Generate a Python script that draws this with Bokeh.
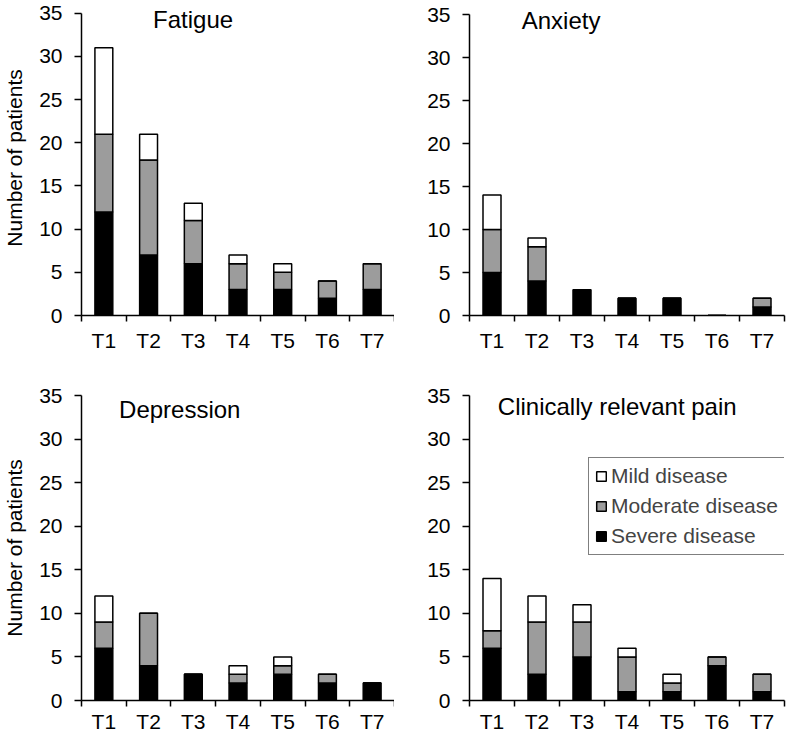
from bokeh.plotting import figure
from bokeh.layouts import column, row
from bokeh.models import ColumnDataSource, Range1d, FixedTicker, Label, Legend, LegendItem
from bokeh.embed import file_html
from bokeh.resources import INLINE

# ---- data ----
categories = ["T1", "T2", "T3", "T4", "T5", "T6", "T7"]
y_ticks = [0, 5, 10, 15, 20, 25, 30, 35]
legend_labels = ["Severe disease", "Moderate disease", "Mild disease"]

fatigue_severe = [12, 7, 6, 3, 3, 2, 3]
fatigue_moderate = [9, 11, 5, 3, 2, 2, 3]
fatigue_mild = [10, 3, 2, 1, 1, 0, 0]

anxiety_severe = [5, 4, 3, 2, 2, 0, 1]
anxiety_moderate = [5, 4, 0, 0, 0, 0, 1]
anxiety_mild = [4, 1, 0, 0, 0, 0, 0]

depression_severe = [6, 4, 3, 2, 3, 2, 2]
depression_moderate = [3, 6, 0, 1, 1, 1, 0]
depression_mild = [3, 0, 0, 1, 1, 0, 0]

pain_severe = [6, 3, 5, 1, 1, 4, 1]
pain_moderate = [2, 6, 4, 4, 1, 1, 2]
pain_mild = [6, 3, 2, 1, 1, 0, 0]

FONT = "Liberation Sans"
COLORS = ["black", "#9c9c9c", "white"]


def make_panel(title, severe, moderate, mild, width, height, mbl, mbr, mbt, mbb,
               top_px, title_x, title_y, x_standoff, ylabel=None, legend=False):
    ymax = y_ticks[-1]
    frame_h = height - mbt - mbb
    px_per_unit = (frame_h - top_px) / ymax
    y_end = ymax + top_px / px_per_unit
    xs = list(range(1, len(categories) + 1))
    src = ColumnDataSource(dict(x=xs, severe=severe, moderate=moderate, mild=mild))
    p = figure(width=width, height=height,
               x_range=Range1d(0.5, len(categories) + 0.5),
               y_range=Range1d(y_ticks[0], y_end),
               output_backend="svg", toolbar_location=None,
               min_border_left=mbl, min_border_right=mbr,
               min_border_top=mbt, min_border_bottom=mbb)
    p.outline_line_color = None
    p.xgrid.visible = False
    p.ygrid.visible = False
    rs = p.vbar_stack(["severe", "moderate", "mild"], x="x", width=0.4, source=src,
                      fill_color=COLORS, line_color="black", line_width=1.5)

    bounds = [v - 0.5 for v in xs] + [xs[-1] + 0.5]
    xa = p.xaxis[0]
    xa.ticker = FixedTicker(ticks=xs, minor_ticks=bounds)
    xa.major_label_overrides = {v: c for v, c in zip(xs, categories)}
    xa.major_tick_line_color = None
    xa.major_tick_out = 6
    xa.major_tick_in = 0
    xa.minor_tick_line_color = "black"
    xa.minor_tick_line_width = 1.5
    xa.minor_tick_out = 6
    xa.minor_tick_in = 0
    xa.axis_line_width = 1.5
    xa.major_label_standoff = x_standoff
    xa.major_label_text_font = FONT
    xa.major_label_text_font_size = "21px"
    xa.major_label_text_color = "black"

    ya = p.yaxis[0]
    ya.ticker = FixedTicker(ticks=y_ticks, minor_ticks=[])
    ya.bounds = (y_ticks[0], ymax)
    ya.major_tick_out = 7
    ya.major_tick_in = 0
    ya.major_tick_line_width = 1.5
    ya.axis_line_width = 1.5
    ya.major_label_standoff = 12
    ya.major_label_text_font = FONT
    ya.major_label_text_font_size = "21px"
    ya.major_label_text_color = "black"
    if ylabel:
        ya.axis_label = ylabel
        ya.axis_label_text_font = FONT
        ya.axis_label_text_font_size = "21px"
        ya.axis_label_text_font_style = "normal"
        ya.axis_label_text_color = "black"
        ya.axis_label_standoff = 10

    p.add_layout(Label(x=title_x, y=title_y, text=title, text_font=FONT,
                       text_font_size="24px", text_baseline="middle",
                       text_align="left", text_color="black"))

    if legend:
        items = [LegendItem(label=legend_labels[i], renderers=[rs[i]]) for i in (2, 1, 0)]
        lg = Legend(items=items, location=(119, 145),
                    border_line_color="black", border_line_width=1.5,
                    label_text_font=FONT, label_text_font_size="21px",
                    glyph_width=12, glyph_height=12, label_standoff=4,
                    padding=6, spacing=6, margin=0, label_height=20,
                    background_fill_color="white", background_fill_alpha=1)
        p.add_layout(lg)
    return p


p1 = make_panel("Fatigue", fatigue_severe, fatigue_moderate, fatigue_mild,
                394, 360, 78, 0, 0, 40, 13, 2.1, 34.3, 7, ylabel="Number of patients")
p2 = make_panel("Anxiety", anxiety_severe, anxiety_moderate, anxiety_mild,
                392, 360, 75, 2, 0, 45, 14, 1.66, 34.3, 7)
p3 = make_panel("Depression", depression_severe, depression_moderate, depression_mild,
                394, 375, 78, 0, 35, 35, 0, 1.34, 33.4, 3, ylabel="Number of patients")
p4 = make_panel("Clinically relevant pain", pain_severe, pain_moderate, pain_mild,
                392, 375, 75, 2, 34, 35, 0, 1.13, 33.75, 3, legend=True)

layout = column(row(p1, p2), row(p3, p4))
open("out.html", "w").write(file_html(layout, INLINE))
